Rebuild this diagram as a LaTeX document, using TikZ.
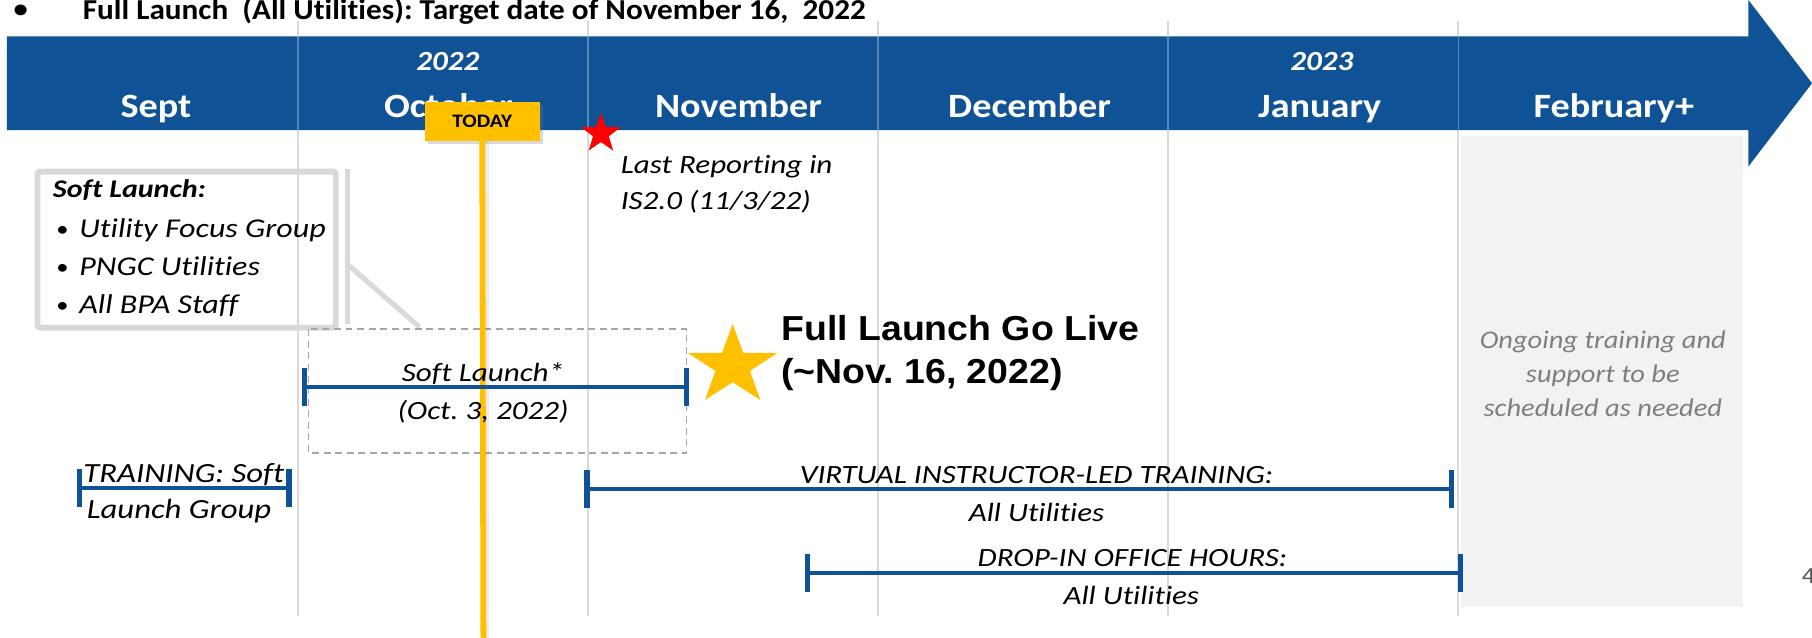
\documentclass[tikz,border=0pt]{standalone}
\usepackage{fontspec}
\setmainfont{Carlito}[FakeStretch=1.12, Ligatures={NoCommon}]
\newfontfamily\itf{Carlito}[FakeStretch=1.18, Ligatures={NoCommon}]
\newfontfamily\topf{Carlito}[FakeStretch=1.08, Ligatures={NoCommon}]
\newfontfamily\arialfont{Liberation Sans}[FakeStretch=1.08]
\usetikzlibrary{shadows}
\definecolor{bandblue}{HTML}{0F5296}
\definecolor{gridgray}{HTML}{D9D9D9}
\definecolor{goldc}{HTML}{FFC000}
\definecolor{boxgray}{HTML}{F2F2F2}
\definecolor{dashgray}{HTML}{A6A6A6}
\definecolor{ongoinggray}{HTML}{7F7F7F}
\definecolor{pagegray}{HTML}{595959}
\newcommand\fsz[1]{\fontsize{#1}{#1}\selectfont}
\frenchspacing
\tikzset{
  gridline/.style={draw=gridgray, line width=1.7},
  month/.style={anchor=base, inner sep=0, text=white, font=\fsz{29.5}\bfseries},
  yearlbl/.style={anchor=base, inner sep=0, text=white, font=\fsz{24}\bfseries\itshape},
  itx/.style={inner sep=0, anchor=base, font=\itf\fsz{22.8}\itshape},
  itxl/.style={itx, anchor=base west},
  calloutline/.style={draw=gridgray, line width=4.4},
  barline/.style={draw=bandblue, line width=3.5},
  tickline/.style={draw=bandblue, line width=4.6},
  todayline/.style={draw=goldc, line width=5},
}
\begin{document}
\begin{tikzpicture}[x=1pt,y=-1pt]
\useasboundingbox (0,0) rectangle (1568,552);
\clip (0,0) rectangle (1568,552);

% ongoing support box
\fill[boxgray] (1264,118) rectangle (1508,525);

% grid lines
\foreach \gx in {258,509,760,1011,1262} \draw[gridline] (\gx,18) -- (\gx,533);

% timeline band with arrow head
\fill[bandblue] (6,31.5) -- (1513,31.5) -- (1513,0) -- (1568,72) -- (1513,144) -- (1513,112.5) -- (6,112.5) -- cycle;
\foreach \gx in {258,509,760,1011,1262} \draw[white, opacity=0.3, line width=1.5] (\gx,31.5) -- (\gx,112.5);

% month labels
\node[month] (sept) at (135,101.5) {Sept};
\node[month] (oct) at (388,101.5) {October};
\node[month] (nov) at (639,101.5) {November};
\node[month] (dec) at (891,101.5) {December};
\node[month] (jan) at (1142,101.5) {January};
\node[month] (feb) at (1396.5,101.5) {February+};
\node[yearlbl] (y2022) at (387.5,61.2) {2022};
\node[yearlbl] (y2023) at (1143.8,61.2) {2023};

% top bullet line
\node[inner sep=0, font=\fsz{22}\bfseries] (topbul) at (18,10) {•};
\node[inner sep=0, anchor=base west, font=\topf\fsz{25}\bfseries] (toptext) at (71.5,17.3) {Full Launch\ \ (All Utilities): Target date of November 16,\ \ 2022};

% soft launch callout
\node[draw=gridgray, line width=5, rounded corners=2, minimum width=258, minimum height=135, anchor=north west, inner sep=0] (callout) at (30,146) {};
\coordinate (acc-top) at (301,146);
\coordinate (acc-bot) at (301,280);
\coordinate (acc-mid) at (301,229);
\coordinate (lead-end) at (363,283);
\draw[calloutline] (acc-top) -- (acc-bot);
\draw[calloutline] (acc-mid) -- (lead-end);
\node[inner sep=0, anchor=base west, font=\itf\fsz{22}\bfseries\itshape] (slhead) at (45.6,171) {Soft Launch:};
\node[inner sep=0, anchor=base, font=\fsz{19}] (b1) at (54,204.5) {•};
\node[inner sep=0, anchor=base, font=\fsz{19}] (b2) at (54,237.8) {•};
\node[inner sep=0, anchor=base, font=\fsz{19}] (b3) at (54,270.5) {•};
\node[itxl, font=\itf\fsz{23.5}\itshape] (i1) at (68.5,205.5) {Utility Focus Group};
\node[itxl, font=\itf\fsz{23.5}\itshape] (i2) at (68.5,238.8) {PNGC Utilities};
\node[itxl, font=\itf\fsz{23.5}\itshape] (i3) at (68.5,271.5) {All BPA Staff};

% dashed soft launch box
\draw[draw=dashgray, line width=1.5, dash pattern=on 6pt off 4pt] (267,285) rectangle (594,392);

% today marker
\coordinate (todayend) at (418.3,552);
\draw[draw=black, opacity=0.08, line width=4] (421.5,121.7) -- (421.5,552);
\node[fill=goldc, minimum width=99.4, minimum height=33.7, inner sep=0, font=\fsz{16.5}\bfseries,
      drop shadow={shadow xshift=3pt, shadow yshift=-3pt, opacity=0.3}] (today) at (417.3,105) {TODAY};
\draw[todayline] (today.south) -- (todayend);

% red star
\fill[red, shift={(520,115.7)}] (270:18) -- (306:7.2) -- (342:18) -- (18:7.2) -- (54:18) -- (90:7.2) -- (126:18) -- (162:7.2) -- (198:18) -- (234:7.2) -- cycle;
\node[itxl] (lr1) at (537,150) {Last Reporting in};
\node[itxl] (lr2) at (537,180.9) {IS2.0 (11/3/22)};

% soft launch bar
\coordinate (sla) at (263.6,334.6);
\coordinate (slb) at (594,334.6);
\draw[barline] (sla) -- (slb);
\draw[tickline] ([yshift=16.5pt]sla) -- ([yshift=-16.5pt]sla);
\draw[tickline] ([yshift=16.5pt]slb) -- ([yshift=-16.5pt]slb);
\node[itx] (sl1) at (418,330.3) {Soft Launch*};
\node[itx] (sl2) at (418,363.4) {(Oct. 3, 2022)};

% gold star and full launch
\fill[goldc, shift={(634,316.7)}, xscale=1.12] (270:36.3) -- (306:14) -- (342:36.3) -- (18:14) -- (54:36.3) -- (90:14) -- (126:36.3) -- (162:14) -- (198:36.3) -- (234:14) -- cycle;
\node[inner sep=0, anchor=base west, font=\arialfont\fsz{30}\bfseries] (fl1) at (676,294.8) {Full Launch Go Live};
\node[inner sep=0, anchor=base west, font=\arialfont\fsz{30}\bfseries] (fl2) at (676,331.6) {(\textasciitilde Nov. 16, 2022)};

% training soft launch group
\coordinate (tra) at (69,422.5);
\coordinate (trb) at (250,422.5);
\draw[barline] (tra) -- (trb);
\draw[tickline] ([yshift=16.5pt]tra) -- ([yshift=-16.5pt]tra);
\draw[tickline] ([yshift=16.5pt]trb) -- ([yshift=-16.5pt]trb);
\node[itx, font=\itf\fsz{24}\itshape] (tr1) at (159,417.4) {TRAINING: Soft};
\node[itx, font=\itf\fsz{24}\itshape] (tr2) at (155,449) {Launch Group};

% virtual instructor-led training
\coordinate (via) at (508,423);
\coordinate (vib) at (1256,423);
\draw[barline] (via) -- (vib);
\draw[tickline] ([yshift=16.5pt]via) -- ([yshift=-16.5pt]via);
\draw[tickline] ([yshift=16.5pt]vib) -- ([yshift=-16.5pt]vib);
\node[itx] (vi1) at (897,418.3) {VIRTUAL INSTRUCTOR-LED TRAINING:};
\node[itx] (vi2) at (897,451) {All Utilities};

% drop-in office hours
\coordinate (dra) at (698.6,495.6);
\coordinate (drb) at (1264,495.6);
\draw[barline] (dra) -- (drb);
\draw[tickline] ([yshift=16.5pt]dra) -- ([yshift=-16.5pt]dra);
\draw[tickline] ([yshift=16.5pt]drb) -- ([yshift=-16.5pt]drb);
\node[itx] (dr1) at (980,490.4) {DROP-IN OFFICE HOURS:};
\node[itx] (dr2) at (979,523.5) {All Utilities};

% ongoing text
\node[itx, text=ongoinggray, font=\fsz{22}\itshape] (og1) at (1387,301.4) {Ongoing training and};
\node[itx, text=ongoinggray, font=\fsz{22}\itshape] (og2) at (1387,331.2) {support to be};
\node[itx, text=ongoinggray, font=\fsz{22}\itshape] (og3) at (1387,360) {scheduled as needed};

% page number
\node[inner sep=0, anchor=base west, text=pagegray, font=\fsz{20}] (pg) at (1559,504.7) {4};
\end{tikzpicture}
\end{document}
